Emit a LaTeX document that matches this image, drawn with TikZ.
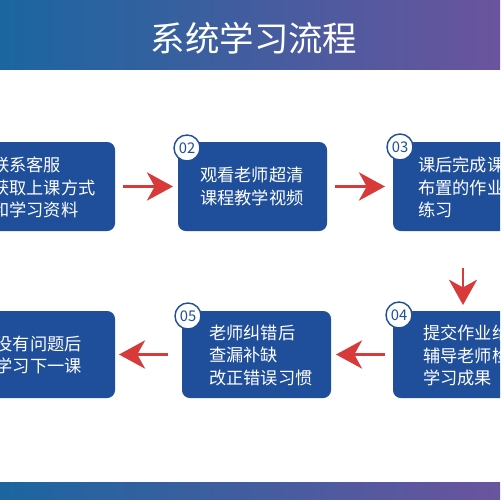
\documentclass[tikz,border=0pt]{standalone}
\usepackage{fontspec}
\setmainfont{Noto Sans CJK SC}
\usetikzlibrary{arrows.meta}
\definecolor{boxblue}{HTML}{1F4E9B}
\definecolor{hleft}{HTML}{1B66A0}
\definecolor{hright}{HTML}{6A549E}
\definecolor{arrred}{HTML}{D83A3A}
\def\u{0.05cm}
\begin{document}
\begin{tikzpicture}[x=0.05cm,y=-0.05cm,
  box/.style={fill=boxblue, rounded corners=11pt, inner sep=0pt, outer sep=0pt},
  txt/.style={text=white, align=left, inner sep=0pt, anchor=west, font=\fontsize{24.5pt}{32pt}\selectfont},
  numc/.style={circle, draw=boxblue, line width=2pt, fill=white, text=boxblue, inner sep=0pt, minimum size=26*\u, font=\fontsize{21pt}{21pt}\selectfont},
  redarr/.style={draw=arrred, line width=4.3pt, -{Stealth[length=37pt, width=40pt, inset=11pt]}},
  redarrthin/.style={draw=arrred, line width=3.5pt, -{Stealth[length=36pt, width=40pt, inset=11pt]}}
]
\useasboundingbox (0,0) rectangle (500,500);
\clip (0,0) rectangle (500,500);
\fill[white] (0,0) rectangle (500,500);
% header and footer bands
\shade[left color=hleft, right color=hright] (0,0) rectangle (500,69);
\shade[left color=hleft, right color=hright] (0,482) rectangle (500,500);
\node[text=white, inner sep=0pt, font=\fontsize{49pt}{49pt}\selectfont] (title) at (254,38) {系统学习流程};
% boxes
\node[box, minimum width=135*\u, minimum height=89*\u] (b1) at (47.5,186.5) {};
\node[box, minimum width=149*\u, minimum height=89*\u] (b2) at (252.5,186.5) {};
\node[box, minimum width=127*\u, minimum height=89*\u] (b3) at (456.5,186.5) {};
\node[box, minimum width=127*\u, minimum height=87*\u] (b4) at (456.5,354.5) {};
\node[box, minimum width=149*\u, minimum height=87*\u] (b5) at (256.5,354.5) {};
\node[box, minimum width=135*\u, minimum height=87*\u] (b6) at (47.5,354.5) {};
% texts
\node[txt] (t1) at (-8,187.5) {联系客服\\获取上课方式\\和学习资料};
\node[txt] (t2) at (200,186.5) {观看老师超清\\课程教学视频};
\node[txt] (t3) at (418,187.5) {课后完成课\\布置的作业\\练习};
\node[txt] (t4) at (423,355.5) {提交作业给\\辅导老师检\\学习成果};
\node[txt] (t5) at (209,355) {老师纠错后\\查漏补缺\\改正错误习惯};
\node[txt] (t6) at (-4.5,355) {没有问题后\\学习下一课};
% number circles
\node[numc] (c2) at (187,148) {02};
\node[numc] (c3) at (400,147) {03};
\node[numc] (c4) at (399,315) {04};
\node[numc] (c5) at (188,316) {05};
% arrows
\coordinate (dx) at (463,0);
\draw[redarr, shorten <=8*\u, shorten >=5*\u] (b1) -- (b2);
\draw[redarr, shorten <=8*\u, shorten >=8*\u] (b2) -- (b3);
\draw[redarrthin, shorten <=37*\u, shorten >=6*\u] (b3.south -| dx) -- (b4.north -| dx);
\draw[redarr, shorten <=8*\u, shorten >=5*\u] (b4) -- (b5);
\draw[redarr, shorten <=14*\u, shorten >=4*\u] (b5) -- (b6);
\end{tikzpicture}
\end{document}
